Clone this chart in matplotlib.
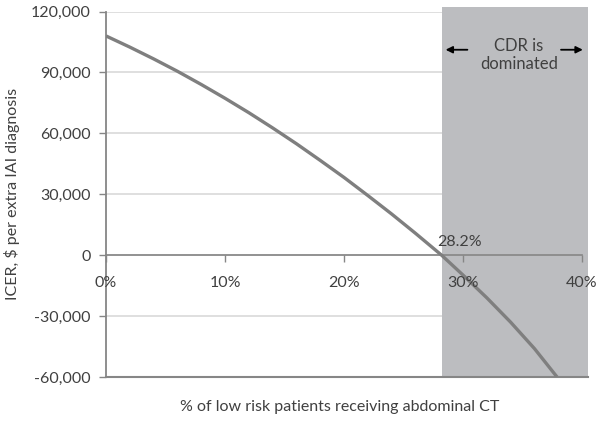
import numpy as np
import matplotlib
matplotlib.use("Agg")
import matplotlib.pyplot as plt
from matplotlib.ticker import FuncFormatter

plt.rcParams['font.family'] = ['Lato', 'DejaVu Sans']

# ===== data =====
pct_ct = [0, 2, 4, 6, 8, 10, 12, 14, 16, 18, 20, 22, 24, 26, 28.2, 30, 32, 34, 36, 37.9]
icer = [108000, 102500, 96700, 90600, 84100, 77300, 70200, 62700, 54900, 46700,
        38300, 29400, 20300, 10800, 0, -9800, -21000, -33000, -46000, -60000]
threshold = 28.2
y_ticks = [-60000, -30000, 0, 30000, 60000, 90000, 120000]
x_ticks = [0, 10, 20, 30, 40]

TXT = '#404040'
AX = '#868686'

fig = plt.figure(figsize=(6.04, 4.21), dpi=100)
ax = fig.add_axes([0.1755, 0.1045, 0.798, 0.868])

ax.set_xlim(0, 40.5)
ax.set_ylim(-60000, 120000)

# horizontal gridlines
for yv in y_ticks:
    ax.axhline(yv, color='#d9d9d9', lw=1.2, zorder=1)
ax.axhline(-60000, color=AX, lw=1.5, zorder=4, clip_on=False)

# dominated region
ax.axvspan(threshold, 40.5, ymin=0, ymax=1.012, color='#bcbdc0', zorder=2, clip_on=False, lw=0)

ax.plot(pct_ct, icer, color='#7f7f7f', lw=2.4, zorder=5, solid_capstyle='butt')

# axes: x axis crosses at 0
for s in ['top', 'right']:
    ax.spines[s].set_visible(False)
ax.spines['left'].set_color(AX)
ax.spines['left'].set_linewidth(1.3)
ax.spines['bottom'].set_position(('data', 0))
ax.spines['bottom'].set_color(AX)
ax.spines['bottom'].set_linewidth(1.2)
ax.spines['bottom'].set_bounds(0, 40)
ax.spines['bottom'].set_zorder(3)
ax.xaxis.set_zorder(6)
ax.yaxis.set_zorder(6)

ax.set_yticks(y_ticks)
ax.yaxis.set_major_formatter(FuncFormatter(lambda v, p: f'{v:,.0f}'))
ax.set_xticks(x_ticks)
ax.set_xticklabels([f'{t}%' for t in x_ticks])
ax.tick_params(axis='y', colors=AX, labelcolor=TXT, labelsize=11.5, length=5, width=1, pad=6)
ax.tick_params(axis='x', colors=AX, labelcolor=TXT, labelsize=11.5, length=5, width=1, pad=10)

ax.set_ylabel('ICER, $ per extra IAI diagnosis', color=TXT, fontsize=11.5, labelpad=8)
fig.text(0.563, 0.033, '% of low risk patients receiving abdominal CT', color=TXT,
         fontsize=11.5, ha='center', va='center')

ax.text(29.7, 6600, '28.2%', color=TXT, fontsize=11.5, ha='center', va='center', zorder=6)
ax.text(34.7, 98800, 'CDR is\ndominated', color=TXT, fontsize=12, ha='center', va='center',
        linespacing=1.15, zorder=6)
ax.annotate('', xy=(28.3, 101200), xytext=(30.6, 101200),
            arrowprops=dict(arrowstyle='-|>', color='black', lw=1.3, mutation_scale=10), zorder=6)
ax.annotate('', xy=(40.3, 101200), xytext=(38.0, 101200),
            arrowprops=dict(arrowstyle='-|>', color='black', lw=1.3, mutation_scale=10),
            zorder=6, annotation_clip=False)

fig.savefig('out.png', dpi=100)
